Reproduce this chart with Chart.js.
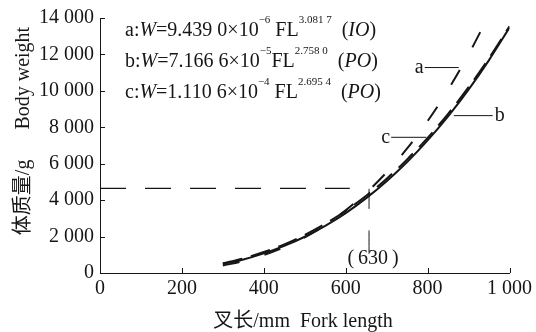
<!DOCTYPE html>
<html>
<head>
<meta charset="utf-8">
<script src="https://cdn.jsdelivr.net/npm/chart.js@4.4.1/dist/chart.umd.min.js"></script>
<style>
    html, body { margin: 0; padding: 0; background: #fff; }
    #wrap { width: 536px; height: 332px; }
</style>
</head>
<body>
<div id="wrap"><canvas id="chart" width="536" height="332"></canvas></div>
<script>
// Fork length (mm) vs body weight (g)
const forkLenA = [300, 350, 400, 450, 500, 550, 600, 650, 700, 750, 800, 850, 900, 940];
const weightA = [410, 650, 990, 1420, 1960, 2630, 3440, 4400, 5530, 6840, 8340, 10060, 12000, 13720];

const forkLenBC = [300, 350, 400, 450, 500, 550, 600, 650, 700, 750, 800, 850, 900, 950, 1000];
const weightB = [490, 740, 1080, 1490, 1990, 2590, 3290, 4110, 5040, 6090, 7280, 8600, 10070, 11690, 13470];
const weightC = [530, 800, 1150, 1570, 2090, 2700, 3420, 4240, 5180, 6240, 7420, 8740, 10200, 11800, 13550];

// dashed reference line + the (630) marker
const refWeight = 4650;
const refLenEnd = 610;
const markerLen = 657;
const markerUpper = [4620, 3520];
const markerLower = [2340, 1060];
const markerLabel = '(\u2009630\u2009)';

// leader lines for the a / b / c labels
const leaderA = [793, 876], leaderAY = 11280;
const leaderB = [864, 959], leaderBY = 8640;
const leaderC = [711, 797], leaderCY = 7450;

const SERIF = '"Liberation Serif", "Noto Sans CJK SC", serif';
const INK = '#161616';

function fmtThousands(v) {
    if (v < 1000) return String(v);
    const k = Math.floor(v / 1000);
    const r = String(v % 1000).padStart(3, '0');
    return k + ' ' + r;
}

function pts(xs, ys) {
    return xs.map((x, i) => ({ x: x, y: ys[i] }));
}

function lineDs(data, width, dash) {
    return {
        data: data,
        borderColor: INK,
        borderWidth: width,
        borderDash: dash || [],
        pointRadius: 0,
        fill: false,
        cubicInterpolationMode: 'monotone'
    };
}

// a small helper for text with superscripts / italics
function drawRich(ctx, x, y, parts) {
    parts.forEach(p => {
        const size = p.sup ? 11 : 20;
        ctx.font = (p.it ? 'italic ' : '') + size + 'px ' + SERIF;
        ctx.fillText(p.t, x, p.sup ? y - 13 : y);
        x += ctx.measureText(p.t).width;
    });
}

const equations = [
    [{t: 'a:'}, {t: 'W', it: true}, {t: '=9.439 0\u00d710'}, {t: '\u22126', sup: true}, {t: ' FL'},
     {t: '3.081 7', sup: true}, {t: '  ('}, {t: 'IO', it: true}, {t: ')'}],
    [{t: 'b:'}, {t: 'W', it: true}, {t: '=7.166 6\u00d710'}, {t: '\u22125', sup: true}, {t: 'FL'},
     {t: '2.758 0', sup: true}, {t: '  ('}, {t: 'PO', it: true}, {t: ')'}],
    [{t: 'c:'}, {t: 'W', it: true}, {t: '=1.110 6\u00d710'}, {t: '\u22124', sup: true}, {t: ' FL'},
     {t: '2.695 4', sup: true}, {t: '  ('}, {t: 'PO', it: true}, {t: ')'}]
];
const eqBaselines = [36, 67, 98];

const annotations = {
    id: 'annotations',
    afterDraw(chart) {
        const ctx = chart.ctx;
        const xs = chart.scales.x, ys = chart.scales.y;
        const area = chart.chartArea;
        ctx.save();
        ctx.fillStyle = INK;
        ctx.strokeStyle = INK;
        ctx.lineWidth = 1;

        // inward tick marks
        ctx.beginPath();
        xs.ticks.forEach(t => {
            if (t.value === 0) return;
            const px = Math.round(xs.getPixelForValue(t.value)) + 0.5;
            ctx.moveTo(px, area.bottom);
            ctx.lineTo(px, area.bottom - 5);
        });
        ys.ticks.forEach(t => {
            if (t.value === 0) return;
            const py = Math.round(ys.getPixelForValue(t.value)) + 0.5;
            ctx.moveTo(area.left, py);
            ctx.lineTo(area.left + 5, py);
        });
        ctx.stroke();

        // equations
        ctx.textAlign = 'left';
        ctx.textBaseline = 'alphabetic';
        equations.forEach((eq, i) => drawRich(ctx, 125, eqBaselines[i], eq));

        // curve labels
        ctx.font = '20px ' + SERIF;
        ctx.textBaseline = 'middle';
        ctx.textAlign = 'right';
        ctx.fillText('a', xs.getPixelForValue(leaderA[0]) - 1, ys.getPixelForValue(leaderAY));
        ctx.fillText('c', xs.getPixelForValue(leaderC[0]) - 1, ys.getPixelForValue(leaderCY));
        ctx.textAlign = 'left';
        ctx.fillText('b', xs.getPixelForValue(leaderB[1]) + 2, ys.getPixelForValue(leaderBY));

        // (630)
        ctx.textAlign = 'center';
        ctx.fillText(markerLabel, xs.getPixelForValue(markerLen) + 4, 259);

        // axis titles
        ctx.fillText('叉长/mm  Fork length', 303, 322);
        ctx.translate(24, 131);
        ctx.rotate(-Math.PI / 2);
        ctx.fillText('体质量/g\u2003\u2002Body weight', 0, 0);
        ctx.restore();
    }
};

new Chart(document.getElementById('chart'), {
    type: 'line',
    data: {
        datasets: [
            lineDs(pts(forkLenBC, weightB), 2),
            lineDs(pts(forkLenBC, weightC), 2, [20, 9]),
            lineDs(pts(forkLenA, weightA), 2, [17, 26]),
            lineDs([{x: 0, y: refWeight}, {x: refLenEnd, y: refWeight}], 1.2, [26, 19]),
            lineDs([{x: markerLen, y: markerUpper[0]}, {x: markerLen, y: markerUpper[1]}], 1),
            lineDs([{x: markerLen, y: markerLower[0]}, {x: markerLen, y: markerLower[1]}], 1),
            lineDs([{x: leaderA[0], y: leaderAY}, {x: leaderA[1], y: leaderAY}], 1),
            lineDs([{x: leaderB[0], y: leaderBY}, {x: leaderB[1], y: leaderBY}], 1),
            lineDs([{x: leaderC[0], y: leaderCY}, {x: leaderC[1], y: leaderCY}], 1)
        ]
    },
    options: {
        responsive: false,
        devicePixelRatio: 1,
        animation: false,
        layout: { padding: { top: 17, right: 23, left: 0, bottom: 0 } },
        plugins: {
            legend: { display: false },
            tooltip: { enabled: false }
        },
        scales: {
            x: {
                type: 'linear',
                min: 0,
                max: 1000,
                afterFit: s => { s.height = 59; },
                grid: { display: false, drawTicks: false },
                border: { display: true, color: INK, width: 1 },
                ticks: {
                    stepSize: 200,
                    padding: 4,
                    color: INK,
                    font: { family: SERIF, size: 20 },
                    maxRotation: 0,
                    callback: v => fmtThousands(v)
                }
            },
            y: {
                min: 0,
                max: 14000,
                afterFit: s => { s.width = 100; },
                grid: { display: false, drawTicks: false },
                border: { display: true, color: INK, width: 1 },
                ticks: {
                    stepSize: 2000,
                    padding: 6,
                    color: INK,
                    font: { family: SERIF, size: 20 },
                    callback: v => fmtThousands(v)
                }
            }
        }
    },
    plugins: [annotations]
});
</script>
</body>
</html>
